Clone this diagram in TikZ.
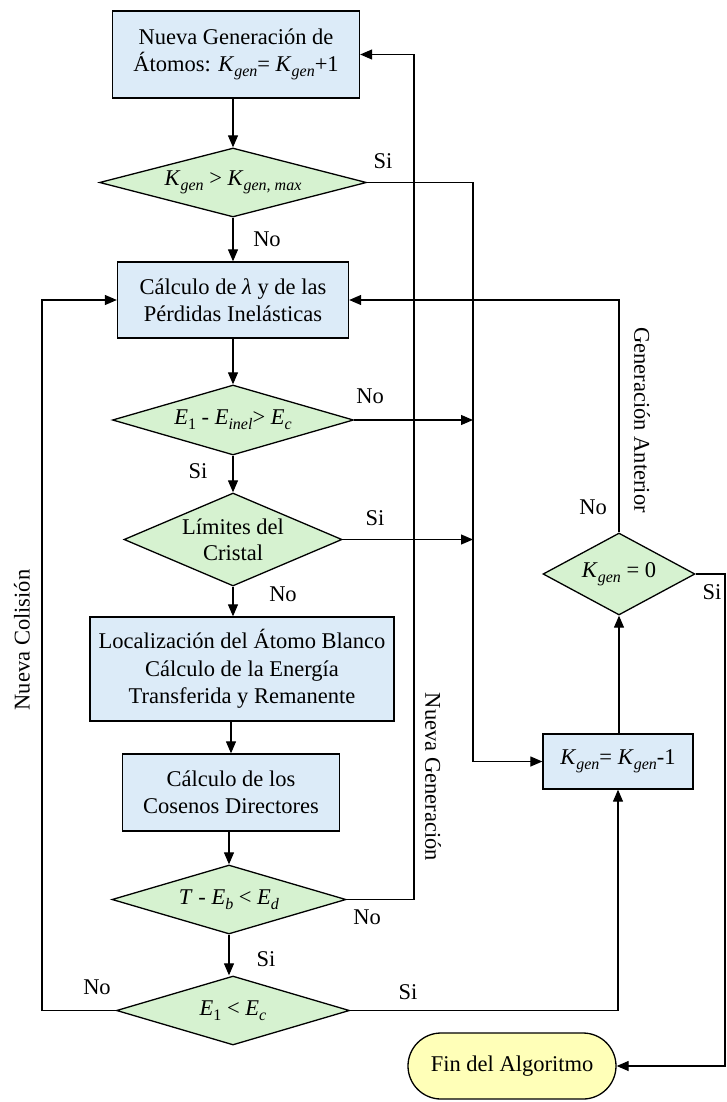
\documentclass[tikz,border=0pt]{standalone}
\usepackage{fontspec}
\setmainfont{Liberation Serif}
\usepackage{tikz}
\usetikzlibrary{arrows.meta,calc,positioning,shapes.geometric}
\definecolor{FlowBlue}{HTML}{DCEBF8}
\definecolor{FlowGreen}{HTML}{D6F2D0}
\definecolor{FlowYellow}{HTML}{FFFFB8}
\newcommand{\idx}[2]{\textit{#1}\raisebox{-5pt}{\fontsize{16}{16}\selectfont\textit{#2}}}
\newcommand{\Kg}{\idx{K}{gen}}

\begin{document}
\begin{tikzpicture}[
      x=1pt,y=-1pt,
      every node/.style={font=\fontsize{22.5}{27.5}\selectfont},
      process/.style={draw,line width=1.3pt,fill=FlowBlue,align=center,inner sep=2pt},
      decision/.style={diamond,draw,line width=1.3pt,fill=FlowGreen,inner sep=0pt},
      terminal/.style={draw,line width=1.3pt,fill=FlowYellow,rounded corners=33pt,
        minimum width=208pt,minimum height=66pt},
      arrow/.style={-{Triangle[length=12pt,width=10pt]},line width=1.2pt},
      link/.style={line width=1.2pt},
      tag/.style={inner sep=0pt}
    ]
      \useasboundingbox (0,0) rectangle (726,1102);
      \node[process,minimum width=247pt,minimum height=87pt] (newgen) at (236,54.5)
        {Nueva Generación de\\Átomos: \Kg= \Kg+1};
      \node[decision,minimum width=267pt,minimum height=69pt,
        label={[tag]center:{\Kg{} > \idx{K}{gen, max}}}] (kmax) at (233,182.5) {};
      \node[process,minimum width=231pt,minimum height=76pt] (lambda) at (233,300)
        {Cálculo de \textit{λ} y de las\\Pérdidas Inelásticas};
      \node[decision,minimum width=241pt,minimum height=70pt,
        label={[tag]center:{\idx{E}{\upshape 1} - \idx{E}{inel}> \idx{E}{c}}}] (inel) at (233,420) {};
      \node[decision,minimum width=218pt,minimum height=93pt,
        label={[tag,align=center,font=\fontsize{22.5}{26}\selectfont]center:{Límites del\\Cristal}}] (lim) at (233,539.5) {};
      \node[process,minimum width=304pt,minimum height=104pt] (target) at (242,669)
        {Localización del Átomo Blanco\\Cálculo de la Energía\\Transferida y Remanente};
      \node[process,minimum width=217pt,minimum height=77pt] (cosines) at (231,792.5)
        {Cálculo de los\\Cosenos Directores};
      \node[decision,minimum width=234pt,minimum height=69pt,
        label={[tag]center:{\textit{T} - \idx{E}{b} < \idx{E}{d}}}] (tdisp) at (229,899.5) {};
      \node[decision,minimum width=233pt,minimum height=69pt,
        label={[tag]center:{\idx{E}{\upshape 1} < \idx{E}{c}}}] (ecut) at (233,1010.5) {};
      \node[process,minimum width=150pt,minimum height=55pt] (kdec) at (618,761.5)
        {\Kg= \Kg-1};
      \node[decision,minimum width=152pt,minimum height=82pt,
        label={[tag]center:{\Kg{} = 0}}] (kzero) at (619,574) {};
      \node[terminal] (fin) at (512,1066) {Fin del Algoritmo};

      \coordinate (prevbus) at (473,182.5);
      \coordinate (genbus) at (414,54.5);
      \coordinate (colbus) at (42,300);
      \coordinate (endbus) at (725,1066);

      \draw[arrow] (newgen.south -| kmax.north) -- (kmax.north);
      \draw[arrow] (kmax) -- (lambda);
      \draw[arrow] (kmax.east) -- (prevbus) |- (kdec.west);
      \draw[arrow] (lambda) -- (inel);
      \draw[arrow] (inel.east) -- (inel.east -| prevbus);
      \draw[arrow] (inel) -- (lim);
      \draw[arrow] (lim.east) -- (lim.east -| prevbus);
      \draw[arrow] (lim.south) -- (lim.south |- target.north);
      \draw[arrow] (cosines.north |- target.south) -- (cosines.north);
      \draw[arrow] (cosines.south -| tdisp.north) -- (tdisp.north);
      \draw[arrow] (tdisp.east) -| (genbus) -- (newgen.east);
      \draw[arrow] (tdisp.south) -- (tdisp.south |- ecut.north);
      \draw[arrow] (ecut.west) -| (colbus) -- (lambda.west);
      \draw[arrow] (ecut.east) -| (kdec.south);
      \draw[arrow] (kdec.north -| kzero.south) -- (kzero.south);
      \draw[arrow] (kzero.north) |- (lambda.east);
      \draw[arrow] (kzero.east) -| (endbus) -- (fin.east);

      \node (siMax) at (383,161) {Si};
      \node (noMax) at (267,239) {No};
      \node (noInel) at (370,396) {No};
      \node (siInel) at (198,471) {Si};
      \node (siLim) at (375,518) {Si};
      \node (noLim) at (283,594) {No};
      \node (noT) at (367,917) {No};
      \node (siT) at (266,959) {Si};
      \node (noEc) at (97,987) {No};
      \node (siEc) at (408,992) {Si};
      \node (noZero) at (593,507) {No};
      \node (siZero) at (712,592) {Si};

      \node[rotate=90] (colLbl) at (22,640) {Nueva Colisión};
      \node[rotate=-90] (genLbl) at (433,777) {Nueva Generación};
      \node[rotate=-90] (prevLbl) at (642,420) {Generación Anterior};
    \end{tikzpicture}
\end{document}
